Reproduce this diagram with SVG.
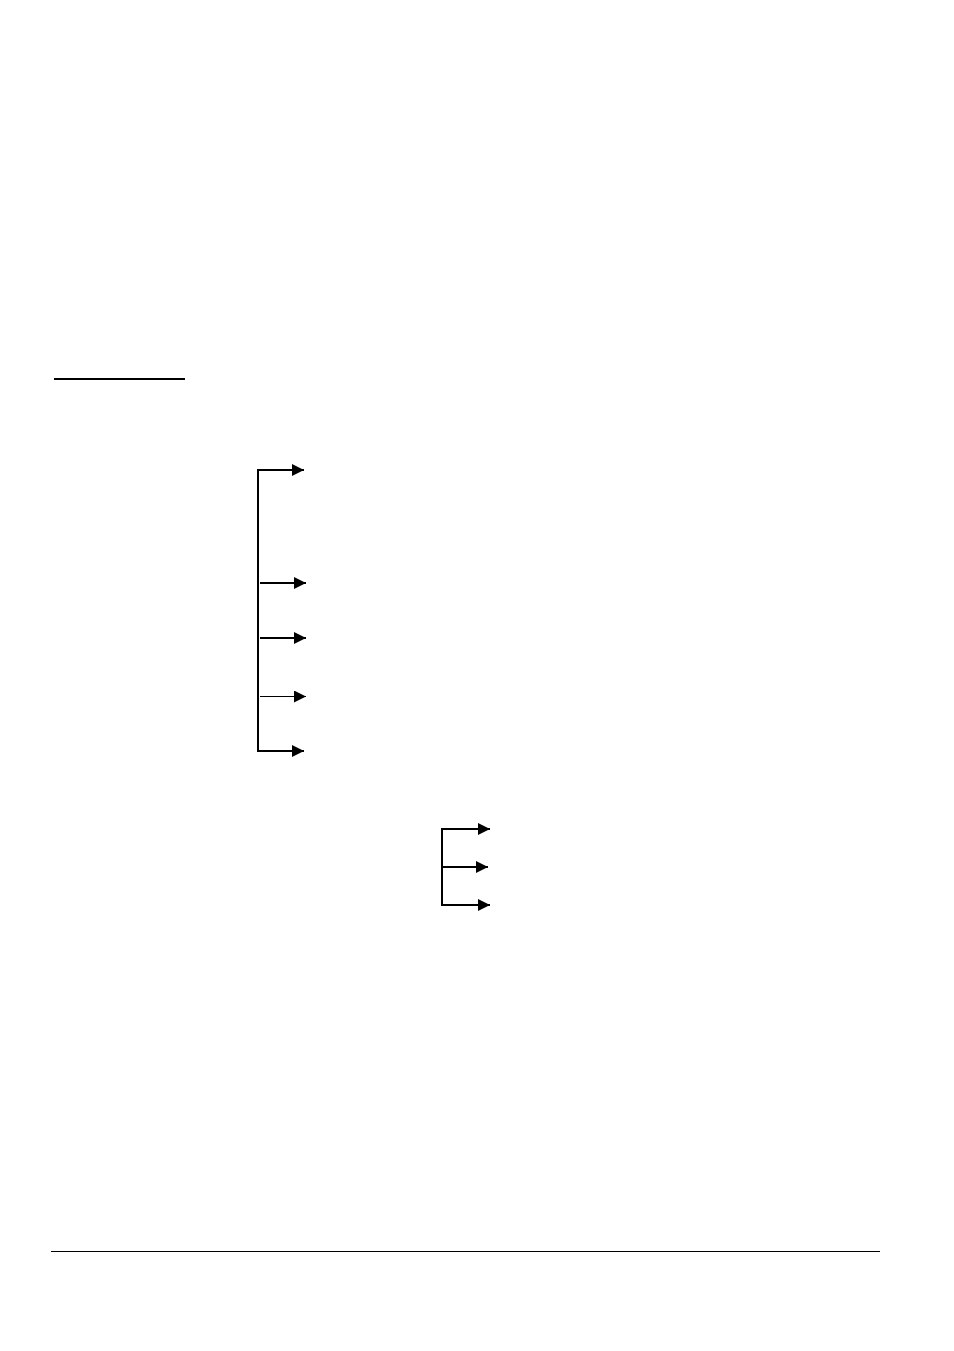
<svg xmlns="http://www.w3.org/2000/svg" width="954" height="1351" viewBox="0 0 954 1351">
<defs>
<style>
.thick{stroke:#000;stroke-width:2;fill:none}
.thin{stroke:#000;stroke-width:1;fill:none}
.head{fill:#000}
</style>
<marker id="ah" markerUnits="userSpaceOnUse" markerWidth="12" markerHeight="12" refX="12" refY="6" orient="auto" viewBox="0 0 12 12">
<path d="M0,0 L12,6 L0,12 Z" class="head"/>
</marker>
</defs>
<rect width="954" height="1351" fill="#fff"/>
<g id="underline"><line class="thick" x1="54" y1="379" x2="185" y2="379"/></g>
<g id="footer-rule"><line class="thin" x1="51" y1="1251.5" x2="880" y2="1251.5"/></g>
<g id="connectors">
<line class="thick" x1="258" y1="469" x2="258" y2="752"/>
<line class="thick" x1="257" y1="470" x2="304" y2="470" marker-end="url(#ah)"/>
<line class="thick" x1="260" y1="583" x2="306" y2="583" marker-end="url(#ah)"/>
<line class="thick" x1="260" y1="638" x2="306" y2="638" marker-end="url(#ah)"/>
<line class="thin" x1="260" y1="696.5" x2="306" y2="696.5" marker-end="url(#ah)"/>
<line class="thick" x1="257" y1="751" x2="304" y2="751" marker-end="url(#ah)"/>
<line class="thick" x1="442" y1="828" x2="442" y2="906"/>
<line class="thick" x1="442" y1="829" x2="490" y2="829" marker-end="url(#ah)"/>
<line class="thick" x1="442" y1="867" x2="488" y2="867" marker-end="url(#ah)"/>
<line class="thick" x1="442" y1="905" x2="490" y2="905" marker-end="url(#ah)"/>
</g>
</svg>
